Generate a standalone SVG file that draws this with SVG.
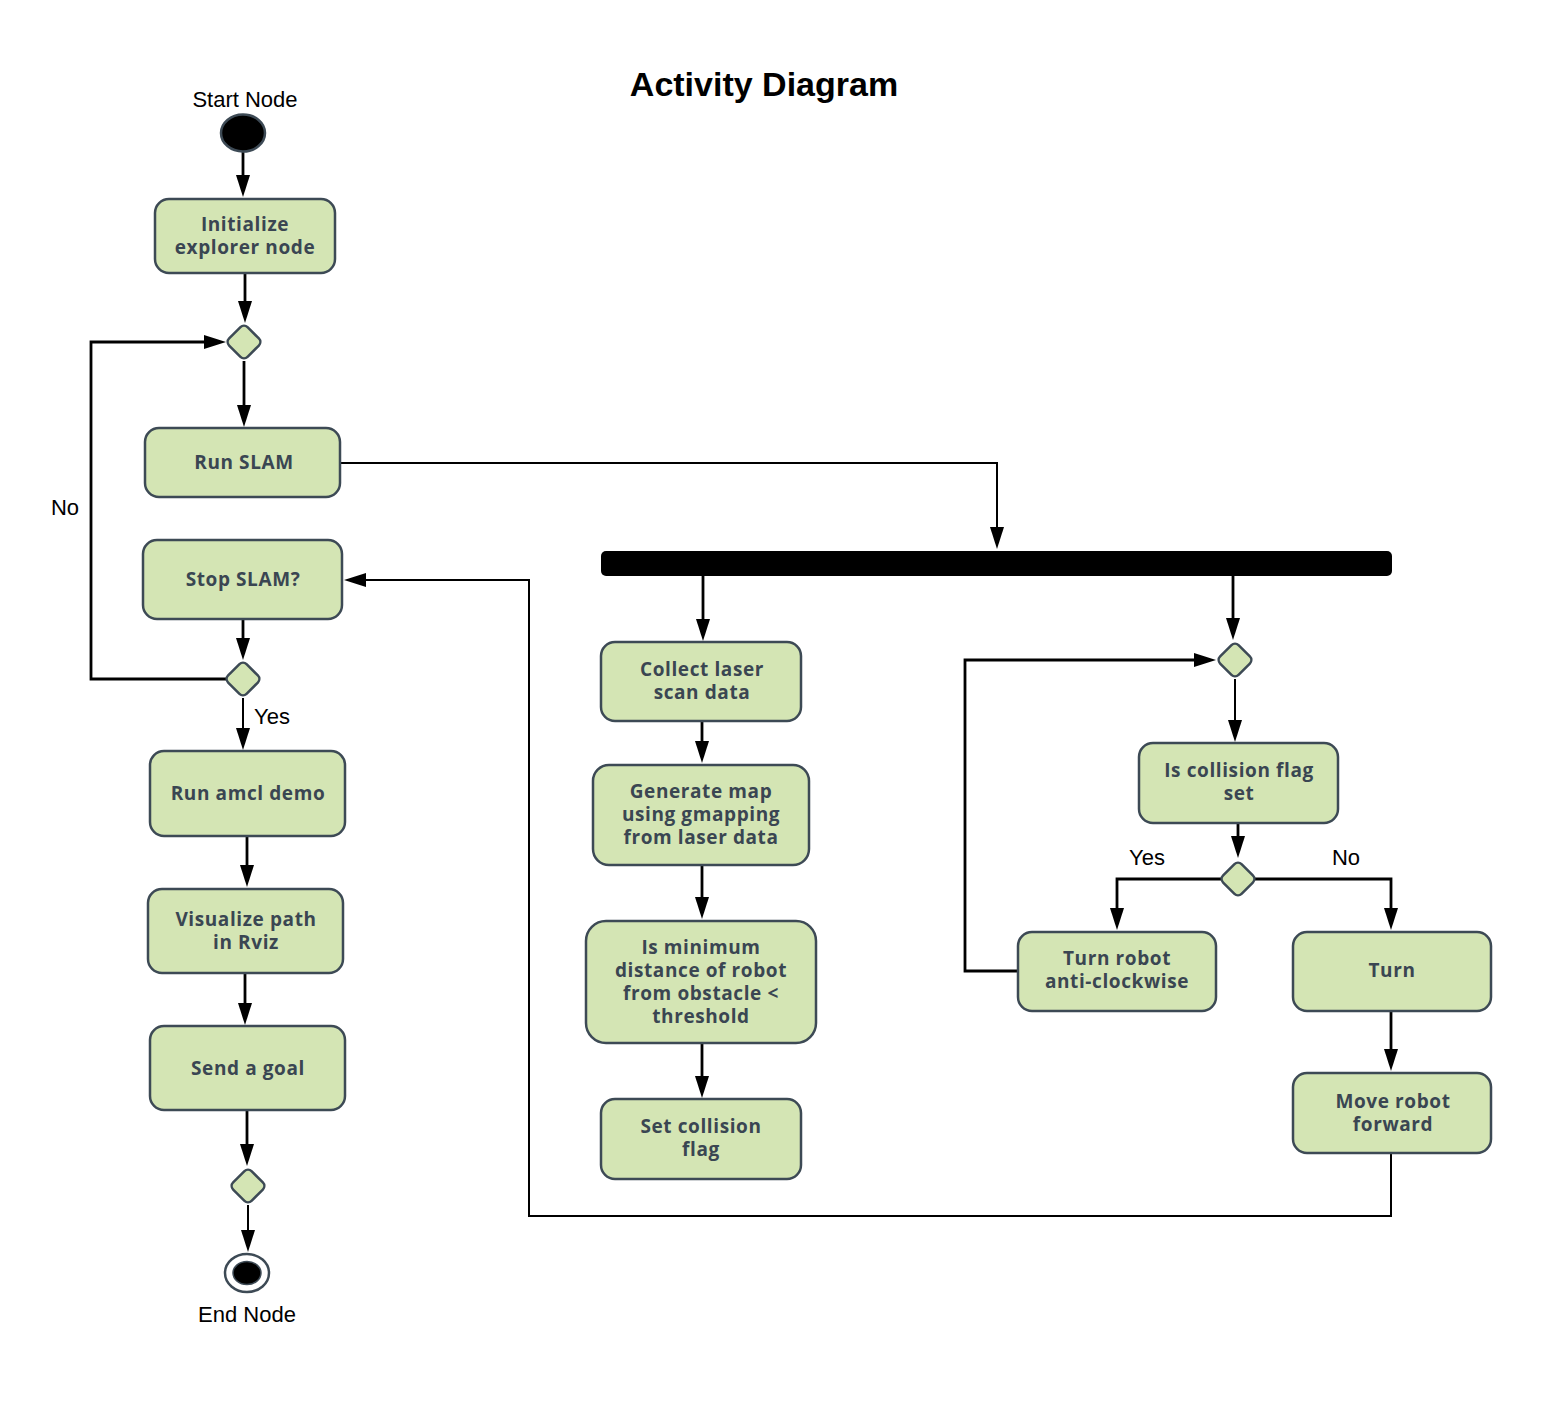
<svg xmlns="http://www.w3.org/2000/svg" width="1542" height="1408" viewBox="0 0 1542 1408">
<defs>
<style>
.node rect.box{fill:#d4e5b4;stroke:#3d4a55;stroke-width:2.5}
.dia{fill:#d4e5b4;stroke:#3d4a55;stroke-width:2.5}
.nt{font-family:"Open Sans","Noto Sans",sans-serif;font-weight:bold;font-size:19px;letter-spacing:0.6px;fill:#3a4652;text-anchor:middle}
.lbl{font-family:"Liberation Sans",Arial,sans-serif;font-size:22px;fill:#000}
.c{fill:none;stroke:#000;stroke-width:2.8}
.ct{fill:none;stroke:#000;stroke-width:2}
</style>
<marker id="ah" markerUnits="userSpaceOnUse" markerWidth="22" markerHeight="14" refX="16" refY="7" orient="auto" viewBox="0 0 22 14">
<path d="M0,0 L22,7 L0,14 z" fill="#000"/>
</marker>
</defs>
<rect width="1542" height="1408" fill="#fff"/>
<text x="764" y="96" font-family="Liberation Sans,Arial,sans-serif" font-weight="bold" font-size="34" text-anchor="middle">Activity Diagram</text>

<g id="connectors">
<path class="c" d="M243,152 V191" marker-end="url(#ah)"/>
<path class="c" d="M245,273 V317" marker-end="url(#ah)"/>
<path class="c" d="M244,361 V421" marker-end="url(#ah)"/>
<path class="c" d="M227,679 H91 V342 H220" marker-end="url(#ah)"/>
<path class="c" d="M243,619 V654" marker-end="url(#ah)"/>
<path class="ct" d="M243,698 V744" marker-end="url(#ah)"/>
<path class="c" d="M247,836 V881" marker-end="url(#ah)"/>
<path class="c" d="M245,973 V1019" marker-end="url(#ah)"/>
<path class="c" d="M247,1110 V1160" marker-end="url(#ah)"/>
<path class="ct" d="M248,1205 V1246" marker-end="url(#ah)"/>
<path class="ct" d="M340,463 H997 V543" marker-end="url(#ah)"/>
<path class="c" d="M703,576 V635" marker-end="url(#ah)"/>
<path class="c" d="M702,721 V757" marker-end="url(#ah)"/>
<path class="c" d="M702,865 V913" marker-end="url(#ah)"/>
<path class="c" d="M702,1043 V1092" marker-end="url(#ah)"/>
<path class="c" d="M1233,576 V634" marker-end="url(#ah)"/>
<path class="ct" d="M1235,679 V736" marker-end="url(#ah)"/>
<path class="c" d="M1238,823 V852" marker-end="url(#ah)"/>
<path class="c" d="M1221,879 H1117 V924" marker-end="url(#ah)"/>
<path class="c" d="M1255,879 H1391 V924" marker-end="url(#ah)"/>
<path class="c" d="M1018,971 H965 V660 H1210" marker-end="url(#ah)"/>
<path class="c" d="M1391,1011 V1065" marker-end="url(#ah)"/>
<path class="ct" d="M1391,1153 V1216 H529 V580 H350" marker-end="url(#ah)"/>
<text class="lbl" x="65" y="515" text-anchor="middle">No</text>
<text class="lbl" x="254" y="724">Yes</text>
<text class="lbl" x="1147" y="865" text-anchor="middle">Yes</text>
<text class="lbl" x="1346" y="865" text-anchor="middle">No</text>
</g>

<g id="start">
<text class="lbl" x="245" y="107" text-anchor="middle">Start Node</text>
<ellipse cx="243" cy="133" rx="22" ry="18.5" fill="#000" stroke="#3d4a55" stroke-width="2.5"/>
</g>

<g id="n-init" class="node"><rect class="box" x="155" y="199" width="180" height="74" rx="14"/><text class="nt" x="245" y="231">Initialize<tspan x="245" dy="23">explorer node</tspan></text></g>
<g id="d1"><rect class="dia" x="231" y="329" width="26" height="26" rx="5" transform="rotate(45 244 342)"/></g>
<g id="n-runslam" class="node"><rect class="box" x="145" y="428" width="195" height="69" rx="14"/><text class="nt" x="244" y="469">Run SLAM</text></g>
<g id="n-stopslam" class="node"><rect class="box" x="143" y="540" width="199" height="79" rx="14"/><text class="nt" x="243" y="586">Stop SLAM?</text></g>
<g id="d2"><rect class="dia" x="230" y="666" width="26" height="26" rx="5" transform="rotate(45 243 679)"/></g>
<g id="n-amcl" class="node"><rect class="box" x="150" y="751" width="195" height="85" rx="14"/><text class="nt" x="248" y="800">Run amcl demo</text></g>
<g id="n-viz" class="node"><rect class="box" x="148" y="889" width="195" height="84" rx="14"/><text class="nt" x="246" y="926">Visualize path<tspan x="246" dy="23">in Rviz</tspan></text></g>
<g id="n-goal" class="node"><rect class="box" x="150" y="1026" width="195" height="84" rx="14"/><text class="nt" x="248" y="1075">Send a goal</text></g>
<g id="d3"><rect class="dia" x="235" y="1173" width="26" height="26" rx="5" transform="rotate(45 248 1186)"/></g>
<g id="end">
<ellipse cx="247" cy="1273" rx="22" ry="19" fill="#fff" stroke="#3d4a55" stroke-width="2.5"/>
<ellipse cx="247" cy="1273" rx="14" ry="11.5" fill="#000" stroke="#3d4a55" stroke-width="1.5"/>
<text class="lbl" x="247" y="1322" text-anchor="middle">End Node</text>
</g>

<g id="fork"><rect x="601" y="551" width="791" height="25" rx="5" fill="#000"/></g>

<g id="n-collect" class="node"><rect class="box" x="601" y="642" width="200" height="79" rx="14"/><text class="nt" x="702" y="676">Collect laser<tspan x="702" dy="23">scan data</tspan></text></g>
<g id="n-genmap" class="node"><rect class="box" x="593" y="765" width="216" height="100" rx="16"/><text class="nt" x="701" y="798">Generate map<tspan x="701" dy="23">using gmapping</tspan><tspan x="701" dy="23">from laser data</tspan></text></g>
<g id="n-mindist" class="node"><rect class="box" x="586" y="921" width="230" height="122" rx="20"/><text class="nt" x="701" y="954">Is minimum<tspan x="701" dy="23">distance of robot</tspan><tspan x="701" dy="23">from obstacle &lt;</tspan><tspan x="701" dy="23">threshold</tspan></text></g>
<g id="n-setflag" class="node"><rect class="box" x="601" y="1099" width="200" height="80" rx="14"/><text class="nt" x="701" y="1133">Set collision<tspan x="701" dy="23">flag</tspan></text></g>

<g id="d4"><rect class="dia" x="1222" y="647" width="26" height="26" rx="5" transform="rotate(45 1235 660)"/></g>
<g id="n-isflag" class="node"><rect class="box" x="1139" y="743" width="199" height="80" rx="14"/><text class="nt" x="1239" y="777">Is collision flag<tspan x="1239" dy="23">set</tspan></text></g>
<g id="d5"><rect class="dia" x="1225" y="866" width="26" height="26" rx="5" transform="rotate(45 1238 879)"/></g>
<g id="n-turnacw" class="node"><rect class="box" x="1018" y="932" width="198" height="79" rx="14"/><text class="nt" x="1117" y="965">Turn robot<tspan x="1117" dy="23">anti-clockwise</tspan></text></g>
<g id="n-turn" class="node"><rect class="box" x="1293" y="932" width="198" height="79" rx="14"/><text class="nt" x="1392" y="977">Turn</text></g>
<g id="n-move" class="node"><rect class="box" x="1293" y="1073" width="198" height="80" rx="14"/><text class="nt" x="1393" y="1108">Move robot<tspan x="1393" dy="23">forward</tspan></text></g>
</svg>
